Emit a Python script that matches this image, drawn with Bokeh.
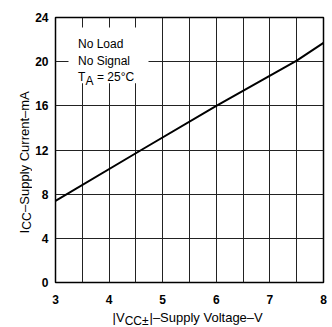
import math
from bokeh.plotting import figure
from bokeh.layouts import row, column
from bokeh.models import Label, BoxAnnotation, SingleIntervalTicker, Range1d
from bokeh.embed import file_html
from bokeh.resources import INLINE

# ---- data ----
supply_voltage = [3.0, 4.6, 6.0, 7.5, 8.0]
supply_current = [7.4, 12.0, 16.0, 20.1, 21.7]
x_ticks = [3, 4, 5, 6, 7, 8]
y_ticks = [0, 4, 8, 12, 16, 20, 24]
notes = ["No Load", "No Signal"]

# ---- layout (picture pixels) ----
W, H = 332, 327
YW = 32            # width of the strip holding the y-axis title
MH = 306           # height of the main plot
FL, FT, FR, FB = 55, 17, 323, 283   # frame edges in picture pixels
XMIN, XMAX, YMIN, YMAX = 3, 8, 0, 24
pxx = (FR - FL) / (XMAX - XMIN)
pxy = (FB - FT) / (YMAX - YMIN)
FONT = "Liberation Sans"

def dx(px):
    return XMIN + (px - FL) / pxx

def dy(py):
    return YMIN + (FB - py) / pxy

def helper(w, h, xr, yr, bl=0, br=0):
    f = figure(width=w, height=h, output_backend="svg", toolbar_location=None,
               x_range=Range1d(*xr), y_range=Range1d(*yr),
               x_axis_type=None, y_axis_type=None,
               min_border_left=bl, min_border_right=br, min_border_top=0, min_border_bottom=0)
    f.outline_line_color = None
    f.background_fill_color = "white"
    f.border_fill_color = "white"
    return f

def lab(fig, x, y, text, size, **kw):
    fig.add_layout(Label(x=x, y=y, text=text, text_font=FONT, text_font_size=f"{size}px",
                         text_color="black", text_baseline="alphabetic", text_align="left", **kw))

# ---------------- main plot ----------------
p = figure(width=W - YW, height=MH, output_backend="svg", toolbar_location=None,
           x_range=Range1d(XMIN, XMAX), y_range=Range1d(YMIN, YMAX),
           min_border_left=FL - YW, min_border_top=FT,
           min_border_right=W - FR, min_border_bottom=MH - FB)

p.outline_line_color = "black"
p.outline_line_width = 1.5
p.background_fill_color = "white"
p.border_fill_color = "white"

for ax in (p.xaxis[0], p.yaxis[0]):
    ax.axis_line_color = None
    ax.major_tick_in = 0
    ax.major_tick_out = 0
    ax.minor_tick_in = 0
    ax.minor_tick_out = 0
    ax.major_label_text_font = FONT
    ax.major_label_text_font_style = "bold"
    ax.major_label_text_font_size = "12px"
    ax.major_label_text_color = "black"

p.xaxis.ticker = x_ticks
p.yaxis.ticker = y_ticks
p.xaxis.major_label_standoff = 12
p.yaxis.major_label_standoff = 7

p.xgrid.ticker = SingleIntervalTicker(interval=0.5)
p.ygrid.ticker = SingleIntervalTicker(interval=4)
for g in (p.xgrid[0], p.ygrid[0]):
    g.grid_line_color = "#222222"
    g.grid_line_width = 1

p.line(supply_voltage, supply_current, line_color="black", line_width=2)

# white box behind the annotation text
p.add_layout(BoxAnnotation(left=dx(68), right=dx(148), top=dy(27), bottom=dy(83),
                           fill_color="white", fill_alpha=1.0, line_color=None))

lab(p, dx(77.5), dy(44), notes[0], 12)
lab(p, dx(77.5), dy(60.5), notes[1], 12)
lab(p, dx(77.5), dy(77), "T", 12)
lab(p, dx(85), dy(80.5), "A", 12)
lab(p, dx(96.5), dy(77), "= 25°C", 12)

# ---------------- y-axis title strip ----------------
yf = helper(YW, H, (0, YW), (H, 0))
ybx, ys = 23.5, 233
lab(yf, ybx, ys, "I", 13, angle=math.pi / 2)
lab(yf, ybx + 2.6, ys - 3.8, "CC", 12, angle=math.pi / 2)
lab(yf, ybx, ys - 3.8 - 17.8, "–Supply Current–mA", 13, angle=math.pi / 2)

# ---------------- x-axis title strip (frame aligned with the main frame) ----------------
xf = helper(W - YW, H - MH, (XMIN, XMAX), (H, MH), bl=FL - YW, br=W - FR)
xb, xs = 317, 112
lab(xf, dx(xs), xb, "|V", 13)
lab(xf, dx(xs + 12.2), xb + 3.2, "CC±", 12)
lab(xf, dx(xs + 12.2 + 24.8), xb, "|–Supply Voltage–V", 13)

layout = row(yf, column(p, xf))
open("out.html", "w").write(file_html(layout, INLINE))
